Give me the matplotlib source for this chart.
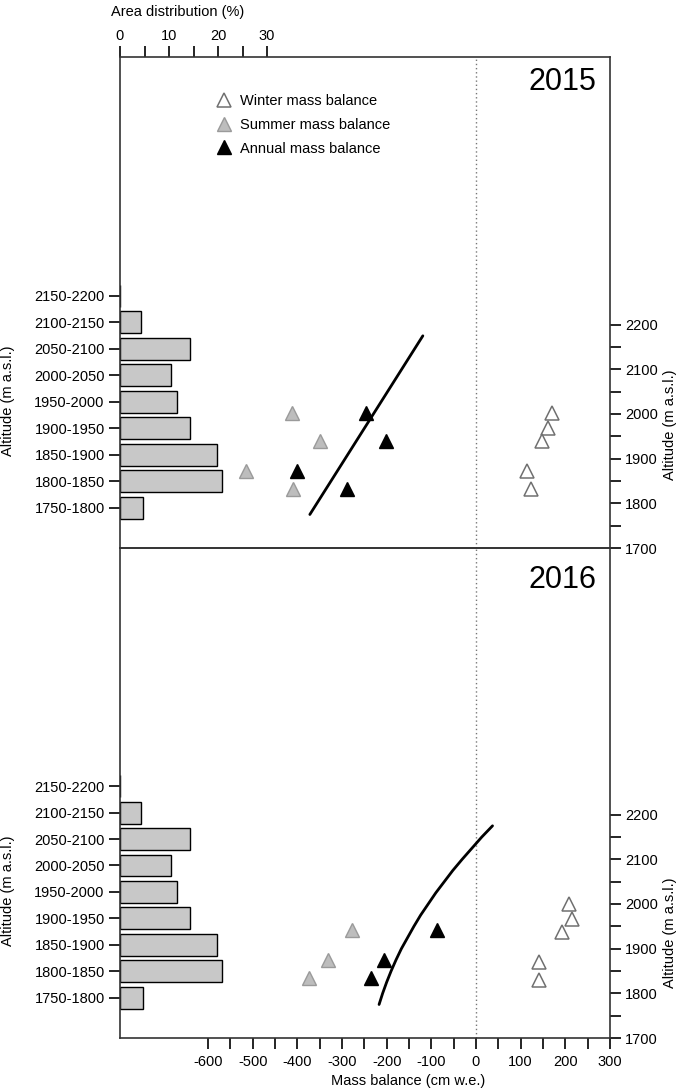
import numpy as np
import matplotlib
matplotlib.use("Agg")
import matplotlib.pyplot as plt
from matplotlib.ticker import FixedLocator

plt.rcParams['font.family'] = ['Liberation Sans', 'DejaVu Sans']
plt.rcParams['font.size'] = 10.5
plt.rcParams['axes.unicode_minus'] = False

# altitude bands and their area share (%)
bands = ["1750-1800", "1800-1850", "1850-1900", "1900-1950", "1950-2000",
         "2000-2050", "2050-2100", "2100-2150", "2150-2200"]
area = [4.7, 20.8, 19.8, 14.3, 11.6, 10.4, 14.3, 4.3, 0.0]

# 2015 stakes
w15_alt = [2003, 1968, 1940, 1873, 1832]
w15_mb = [170, 162, 147, 114, 123]
s15_alt = [2003, 1940, 1873, 1832]
s15_mb = [-412, -349, -515, -410]
a15_mb = [-246, -202, -401, -288]
fit15_alt = [1775, 2175]
fit15_mb = [-372, -119]

# 2016 stakes
w16_alt = [2001, 1967, 1937, 1870, 1830]
w16_mb = [209, 214, 192, 140, 141]
s16_alt = [1942, 1875, 1834]
s16_mb = [-278, -332, -373]
a16_mb = [-88, -205, -235]
fit16_alt = [1775, 1800, 1825, 1850, 1875, 1900, 1925, 1950, 1975, 2000,
             2025, 2050, 2075, 2100, 2125, 2150, 2175]
fit16_mb = [-217, -209, -200, -190, -179, -167, -153, -139, -124, -107,
            -90, -71, -52, -31, -9, 13, 37]

W, H = 684, 1091
fig = plt.figure(figsize=(W / 100, H / 100), dpi=100)

left, right = 120 / W, 610 / W
spine_col = "#333333"


def make_panel(top_px, bot_px, year, year_y, alt_w, mb_w, alt_s, mb_s, mb_a,
               fit_alt, fit_mb, top_axis, bottom_axis, rlab_y, llab_y):
    rect = [left, 1 - bot_px / H, right - left, (bot_px - top_px) / H]
    ax = fig.add_axes(rect)            # mass balance vs altitude
    axb = fig.add_axes(rect, frameon=False)  # area distribution bars
    ax.set_zorder(2)
    ax.patch.set_alpha(0)
    axb.set_zorder(1)

    # bars
    pos = np.arange(len(bands))
    axb.barh(pos, area, height=0.83, color="#c8c8c8", edgecolor="black", lw=1)
    axb.set_xlim(0, 100)
    axb.set_ylim(-1.52, 17.0)
    axb.set_yticks(pos)
    axb.set_yticklabels(bands)
    axb.tick_params(axis="y", direction="out", length=8, width=1.2, pad=3,
                    colors="black", labelsize=10.5)
    axb.set_ylabel("Altitude (m a.s.l.)", fontsize=10.5)
    axb.yaxis.set_label_coords(-0.214, llab_y)
    if top_axis:
        axb.xaxis.tick_top()
        axb.xaxis.set_major_locator(FixedLocator([0, 10, 20, 30]))
        axb.xaxis.set_minor_locator(FixedLocator([5, 15, 25]))
        axb.tick_params(axis="x", which="both", direction="out", length=8,
                        width=1.2, labelsize=10.5, pad=2)
    else:
        axb.set_xticks([])

    # mass balance markers
    ax.axvline(0, color="#777777", lw=1, ls=(0, (1, 2)), zorder=1)
    ax.plot(fit_mb, fit_alt, color="black", lw=2.0, zorder=2,
            solid_capstyle="round", solid_joinstyle="round")
    ax.plot(mb_w, alt_w, ls="none", marker="^", ms=10, mfc="white",
            mec="#707070", mew=1.1, label="Winter mass balance", zorder=3)
    ax.plot(mb_s, alt_s, ls="none", marker="^", ms=10, mfc="#bdbdbd",
            mec="#9a9a9a", mew=1.0, label="Summer mass balance", zorder=3)
    ax.plot(mb_a, alt_s, ls="none", marker="^", ms=10, mfc="black",
            mec="black", mew=1.0, label="Annual mass balance", zorder=3)
    ax.set_xlim(-797, 300)
    ax.set_ylim(1700, 1700 + (bot_px - top_px) / 0.4467)

    ax.yaxis.tick_right()
    ax.yaxis.set_label_position("right")
    ax.yaxis.set_major_locator(FixedLocator(np.arange(1700, 2201, 100)))
    ax.yaxis.set_minor_locator(FixedLocator(np.arange(1750, 2200, 100)))
    ax.tick_params(axis="y", which="both", direction="out", length=8,
                   width=1.2, labelsize=10.5, pad=3)
    ax.set_ylabel("Altitude (m a.s.l.)", fontsize=10.5, rotation=90)
    ax.yaxis.set_label_coords(1.108, rlab_y)

    if bottom_axis:
        ax.xaxis.set_major_locator(FixedLocator(np.arange(-600, 301, 100)))
        ax.xaxis.set_minor_locator(FixedLocator(np.arange(-550, 300, 100)))
        ax.tick_params(axis="x", which="both", direction="out", length=8,
                       width=1.2, labelsize=10.5, pad=4)
    else:
        ax.set_xticks([])

    for s in ax.spines.values():
        s.set_color(spine_col)
        s.set_linewidth(1.2)

    ax.text(0.973, year_y, year, transform=ax.transAxes, ha="right",
            va="center", fontsize=22)
    return ax


ax1 = make_panel(57, 548, "2015", 0.949, w15_alt, w15_mb, s15_alt, s15_mb,
                 a15_mb, fit15_alt, fit15_mb, True, False, 0.25, 0.30)
ax2 = make_panel(548, 1038, "2016", 0.935, w16_alt, w16_mb, s16_alt, s16_mb,
                 a16_mb, fit16_alt, fit16_mb, False, True, 0.214, 0.30)

ax1.legend(loc="upper left", bbox_to_anchor=(0.182, 0.94), frameon=False,
           fontsize=10.5, handlelength=1.0, handletextpad=0.6,
           labelspacing=0.68, borderpad=0)

fig.text(178 / W, 1 - 12 / H, "Area distribution (%)", ha="center",
         va="center", fontsize=10.5)
fig.text(408 / W, 1 - 1081 / H, "Mass balance (cm w.e.)", ha="center",
         va="center", fontsize=10.5)

fig.savefig("out.png", dpi=100, facecolor="white")
